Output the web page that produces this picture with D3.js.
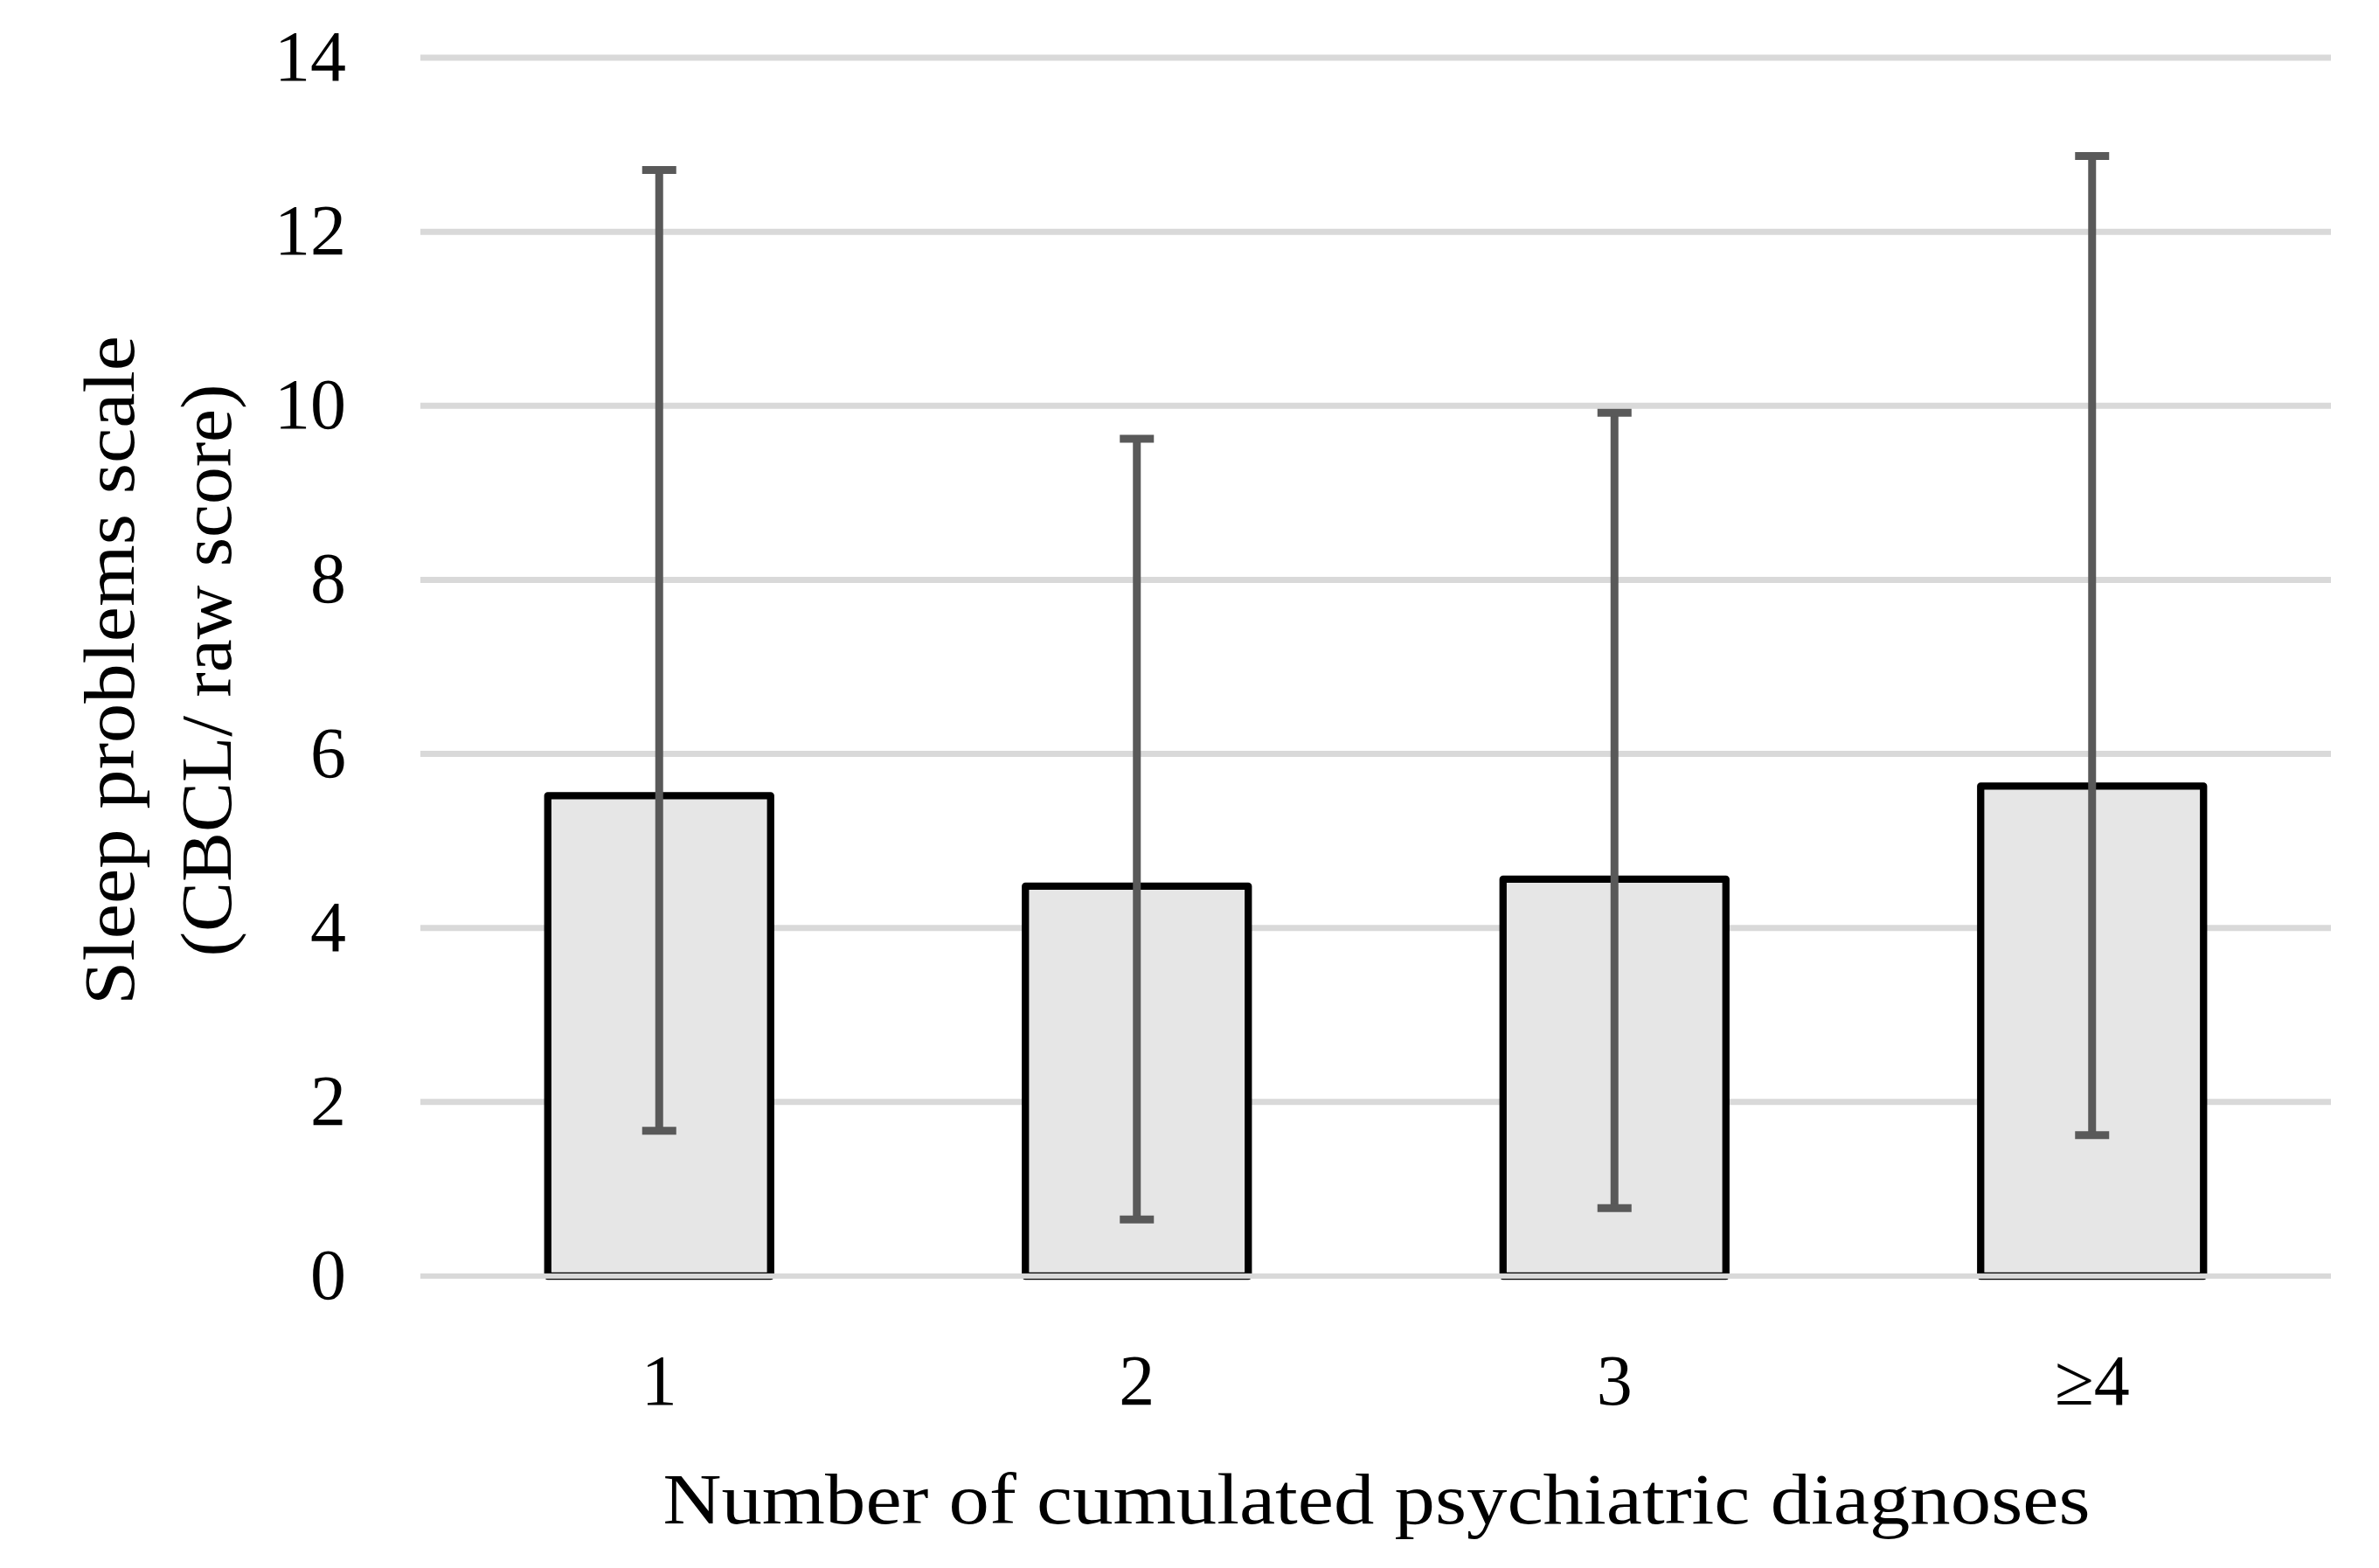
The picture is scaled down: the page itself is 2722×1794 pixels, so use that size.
<!DOCTYPE html>
<html>
<head>
<meta charset="utf-8">
<script src="https://cdn.jsdelivr.net/npm/d3@7"></script>
<style>
  html, body { margin: 0; padding: 0; background: #ffffff; }
  svg { display: block; }
  text { font-family: "Liberation Serif", "DejaVu Serif", serif; fill: #000; }
</style>
</head>
<body>
<svg id="chart" width="2722" height="1794"></svg>
<script>
// ---- data ----
const categories = ["1", "2", "3", "\u22654"];
const means = [5.52, 4.48, 4.56, 5.63];
const errUpper = [12.71, 9.62, 9.92, 12.87];
const errLower = [1.67, 0.65, 0.78, 1.62];
const yTicks = [0, 2, 4, 6, 8, 10, 12, 14];
const xTitle = "Number of cumulated psychiatric diagnoses";
const yTitleLines = ["Sleep problems scale", "(CBCL/ raw score)"];

// ---- layout ----
const W = 2722, H = 1794;
const plot = { left: 481, right: 2667, top: 66, bottom: 1460 };
const FS = 82;

const svg = d3.select("#chart");
svg.append("rect").attr("width", W).attr("height", H).attr("fill", "#fff");

const x = d3.scaleBand()
  .domain(categories)
  .range([plot.left, plot.right])
  .paddingInner(0.5334)
  .paddingOuter(0.2667);

const y = d3.scaleLinear().domain([0, 14]).range([plot.bottom, plot.top]);

// gridlines (non-zero)
svg.append("g").selectAll("line")
  .data(yTicks.filter(d => d !== 0))
  .join("line")
  .attr("x1", plot.left).attr("x2", plot.right)
  .attr("y1", d => y(d)).attr("y2", d => y(d))
  .attr("stroke", "#d9d9d9").attr("stroke-width", 7);

// bars
const data = categories.map((c, i) => ({ c, m: means[i], hi: errUpper[i], lo: errLower[i] }));
svg.append("g").selectAll("rect")
  .data(data)
  .join("rect")
  .attr("x", d => x(d.c))
  .attr("width", x.bandwidth())
  .attr("y", d => y(d.m))
  .attr("height", d => y(0) - y(d.m))
  .attr("fill", "#e6e6e6")
  .attr("stroke", "#000")
  .attr("stroke-width", 8.3)
  .attr("stroke-linejoin", "round");

// zero line on top of bars' bottom edge
svg.append("line")
  .attr("x1", plot.left).attr("x2", plot.right)
  .attr("y1", y(0)).attr("y2", y(0))
  .attr("stroke", "#d9d9d9").attr("stroke-width", 6);

// error bars
const eb = svg.append("g").attr("stroke", "#595959").attr("stroke-width", 9);
const cx = d => x(d.c) + x.bandwidth() / 2;
const capHalf = 19.5;
eb.selectAll("line.v").data(data).join("line").attr("class", "v")
  .attr("x1", cx).attr("x2", cx)
  .attr("y1", d => y(d.hi)).attr("y2", d => y(d.lo));
eb.selectAll("line.t").data(data).join("line").attr("class", "t")
  .attr("x1", d => cx(d) - capHalf).attr("x2", d => cx(d) + capHalf)
  .attr("y1", d => y(d.hi)).attr("y2", d => y(d.hi));
eb.selectAll("line.b").data(data).join("line").attr("class", "b")
  .attr("x1", d => cx(d) - capHalf).attr("x2", d => cx(d) + capHalf)
  .attr("y1", d => y(d.lo)).attr("y2", d => y(d.lo));

// y tick labels
svg.append("g").selectAll("text")
  .data(yTicks)
  .join("text")
  .attr("x", 396)
  .attr("y", d => y(d) + 26)
  .attr("text-anchor", "end")
  .attr("font-size", FS)
  .text(d => d);

// x tick labels
svg.append("g").selectAll("text")
  .data(categories)
  .join("text")
  .attr("x", d => x(d.valueOf ? d : d) + x.bandwidth() / 2)
  .attr("y", 1607)
  .attr("text-anchor", "middle")
  .attr("font-size", FS)
  .text(d => d);

// x axis title
svg.append("text")
  .attr("x", (plot.left + plot.right) / 2 + 1)
  .attr("y", 1743)
  .attr("text-anchor", "middle")
  .attr("font-size", FS)
  .attr("textLength", 1633)
  .attr("lengthAdjust", "spacingAndGlyphs")
  .text(xTitle);

// y axis title (two lines, rotated)
const yCenter = 767;
const yTitleBaselines = [153, 264];
const yTitleLens = [766, 655];
yTitleLines.forEach((t, i) => {
  svg.append("text")
    .attr("transform", `translate(${yTitleBaselines[i]},${yCenter}) rotate(-90)`)
    .attr("text-anchor", "middle")
    .attr("font-size", FS)
    .attr("textLength", yTitleLens[i])
    .attr("lengthAdjust", "spacingAndGlyphs")
    .text(t);
});
</script>
</body>
</html>
